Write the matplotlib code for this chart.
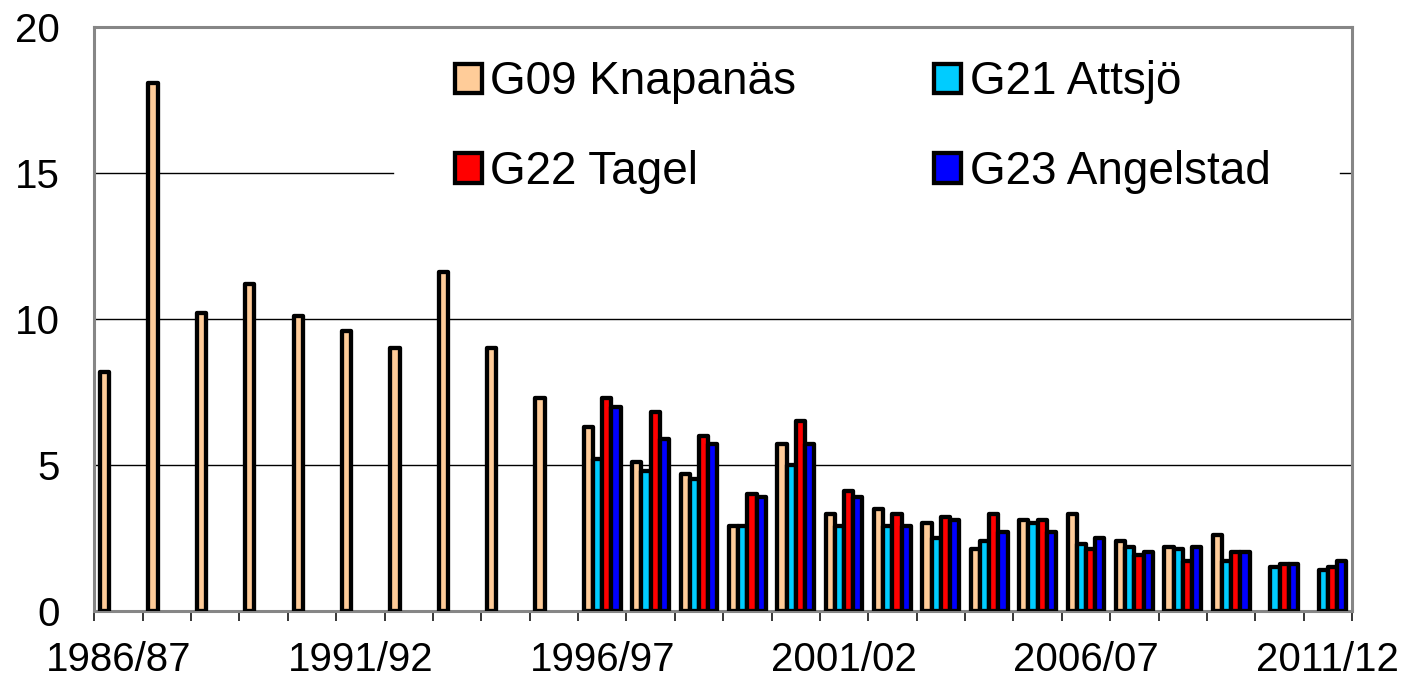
import numpy as np
from matplotlib import pyplot as plt

plt.rcParams['font.family'] = ['Liberation Sans', 'DejaVu Sans']

seasons = ['1986/87', '1987/88', '1988/89', '1989/90', '1990/91', '1991/92',
           '1992/93', '1993/94', '1994/95', '1995/96', '1996/97', '1997/98',
           '1998/99', '1999/00', '2000/01', '2001/02', '2002/03', '2003/04',
           '2004/05', '2005/06', '2006/07', '2007/08', '2008/09', '2009/10',
           '2010/11', '2011/12']
nan = np.nan
# values
g09 = [8.2, 18.1, 10.2, 11.2, 10.1, 9.6, 9.0, 11.6, 9.0, 7.3, 6.3, 5.1, 4.7,
       2.9, 5.7, 3.3, 3.5, 3.0, 2.1, 3.1, 3.3, 2.4, 2.2, 2.6, nan, nan]
g21 = [nan] * 10 + [5.2, 4.8, 4.5, 2.9, 5.0, 2.9, 2.9, 2.5, 2.4, 3.0, 2.3,
                    2.2, 2.1, 1.7, 1.5, 1.4]
g22 = [nan] * 10 + [7.3, 6.8, 6.0, 4.0, 6.5, 4.1, 3.3, 3.2, 3.3, 3.1, 2.1,
                    1.9, 1.7, 2.0, 1.6, 1.5]
g23 = [nan] * 10 + [7.0, 5.9, 5.7, 3.9, 5.7, 3.9, 2.9, 3.1, 2.7, 2.7, 2.5,
                    2.0, 2.2, 2.0, 1.6, 1.7]

series = [('G09 Knapanäs', g09, '#FFCC99'),
          ('G21 Attsjö', g21, '#00CCFF'),
          ('G22 Tagel', g22, '#FF0000'),
          ('G23 Angelstad', g23, '#0000FF')]

fig = plt.figure(figsize=(14.09, 6.8), dpi=100)
ax = fig.add_axes([0.0669, 0.1019, 0.8927, 0.8577])

x = np.arange(len(seasons))
w = 0.19
handles = []
for k, (name, vals, col) in enumerate(series):
    vals = np.array(vals, dtype=float)
    ok = ~np.isnan(vals)
    bars = ax.bar(x[ok] + (k - 1.5) * w, vals[ok], width=w, color=col,
                  edgecolor='black', linewidth=3.1, label=name, zorder=3)
    for b in bars:
        b.set_joinstyle('round')
    handles.append(bars)

# gridlines (the one at 15 is hidden behind the legend)
ax.axhline(5, color='black', lw=1.0, zorder=1)
ax.axhline(10, color='black', lw=1.0, zorder=1)
ax.axhline(15, xmax=0.2375, color='black', lw=1.0, zorder=1)
ax.axhline(15, xmin=0.9905, color='black', lw=1.0, zorder=1)

ax.set_xlim(-0.5, len(seasons) - 0.5)
ax.set_ylim(0, 20)
ax.set_yticks([0, 5, 10, 15, 20])
ax.tick_params(axis='y', length=0, pad=25, labelsize=29)

ax.set_xticks(x[::5])
ax.set_xticklabels(seasons[::5])
ax.set_xticks(np.arange(-0.5, len(seasons)), minor=True)
ax.tick_params(axis='x', which='major', length=0, pad=22, labelsize=29)
ax.tick_params(axis='x', which='minor', length=7, width=1.1, color='black',
               direction='out')

for s in ax.spines.values():
    s.set_color('#868686')
    s.set_linewidth(2.2)

order = [0, 2, 1, 3]
ax.legend([handles[i] for i in order], [series[i][0] for i in order],
          ncol=2, loc='center', bbox_to_anchor=(0.6108, 0.829),
          frameon=False, fontsize=33, handlelength=0.6, handleheight=0.6,
          handletextpad=0.18, columnspacing=3.0, labelspacing=1.0)

fig.savefig('out.png', dpi=100)
